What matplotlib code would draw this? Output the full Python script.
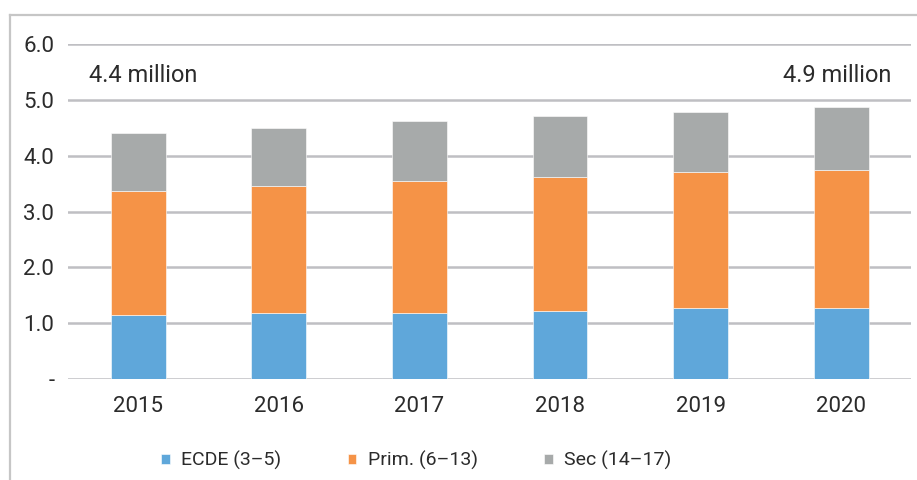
import matplotlib.pyplot as plt
from matplotlib.lines import Line2D
import numpy as np

years = ['2015', '2016', '2017', '2018', '2019', '2020']
ecde = [1.14, 1.18, 1.18, 1.22, 1.27, 1.27]
prim = [2.22, 2.27, 2.36, 2.39, 2.43, 2.48]
sec = [1.04, 1.04, 1.08, 1.10, 1.09, 1.13]
series = ['ECDE (3–5)', 'Prim. (6–13)', 'Sec (14–17)']
colors = ['#5fa7da', '#f59347', '#a7aaaa']
notes = ['4.4 million', '4.9 million']

plt.rcParams['font.family'] = ['Roboto', 'DejaVu Sans']
text_c = '#2b2b2b'

fig = plt.figure(figsize=(9.17, 4.8), dpi=100)
ax = fig.add_axes([0.0742, 0.2104, 0.9198, 0.6979])

x = np.arange(len(years))
bottom = np.zeros(len(years))
for vals, lab, c in zip([ecde, prim, sec], series, colors):
    ax.bar(x, vals, 0.39, bottom=bottom, color=c, label=lab,
           edgecolor='white', linewidth=0.4, zorder=3)
    bottom += np.array(vals)

ax.set_xlim(-0.5, len(years) - 0.5)
ax.set_ylim(0, 6)
ax.set_yticks(np.arange(0, 7))
ax.set_yticklabels(['-'] + ['%.1f' % v for v in range(1, 7)])
ax.set_xticks(x)
ax.set_xticklabels(years)
ax.yaxis.grid(True, color='#bfbfc3', linewidth=1.8, zorder=0)
ax.set_axisbelow(True)
for s in ax.spines.values():
    s.set_visible(False)
ax.tick_params(axis='both', length=0, labelsize=16, colors=text_c)
ax.tick_params(axis='y', pad=10)
ax.tick_params(axis='x', pad=12)

ax.text(-0.35, 5.44, notes[0], fontsize=17, color=text_c, va='center', ha='left')
ax.text(5.36, 5.44, notes[1], fontsize=17, color=text_c, va='center', ha='right')

fig.legend(loc='center', bbox_to_anchor=(0.454, 0.04), ncol=3, frameon=False,
           fontsize=14, handlelength=0.45, handleheight=0.45, columnspacing=3.4,
           handletextpad=0.6, labelcolor=text_c)

fig.add_artist(Line2D([10 / 917, 10 / 917], [0, 1 - 15 / 480], color='#c6c6c6', linewidth=1.6,
                      transform=fig.transFigure))
fig.add_artist(Line2D([10 / 917, 1], [1 - 15 / 480, 1 - 15 / 480], color='#c6c6c6', linewidth=1.6,
                      transform=fig.transFigure))

fig.savefig('out.png', dpi=100)
